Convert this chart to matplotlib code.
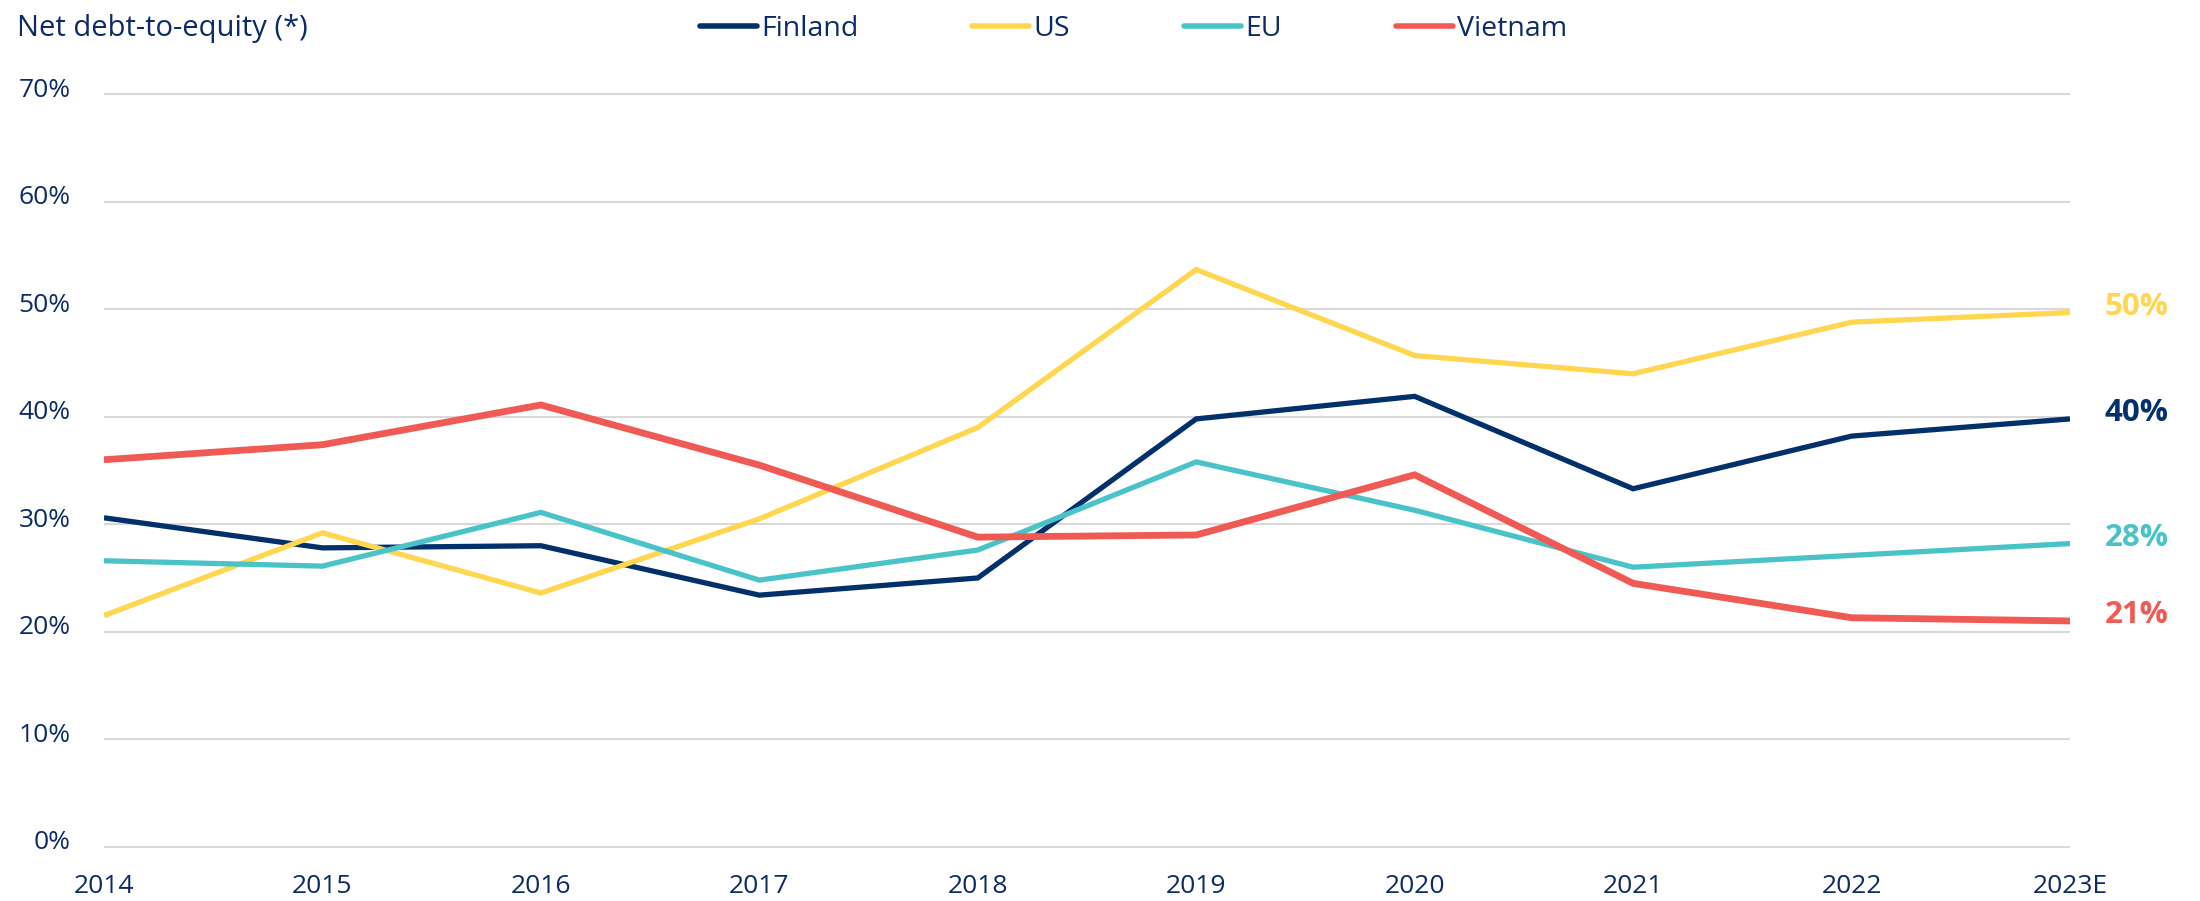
import matplotlib
matplotlib.use("Agg")
import matplotlib.pyplot as plt
import matplotlib.transforms as mtransforms
from matplotlib.lines import Line2D

plt.rcParams["font.family"] = ["Open Sans", "DejaVu Sans"]

years = ["2014", "2015", "2016", "2017", "2018", "2019", "2020", "2021", "2022", "2023E"]
finland = [30.6, 27.8, 28.0, 23.4, 25.0, 39.8, 41.9, 33.3, 38.2, 39.8]
us = [21.5, 29.2, 23.6, 30.5, 39.0, 53.7, 45.7, 44.0, 48.8, 49.7]
eu = [26.6, 26.1, 31.1, 24.8, 27.6, 35.8, 31.3, 26.0, 27.1, 28.2]
vietnam = [36.0, 37.4, 41.1, 35.5, 28.8, 29.0, 34.6, 24.5, 21.3, 21.0]
end_labels = ["40%", "50%", "28%", "21%"]

names = ["Finland", "US", "EU", "Vietnam"]
colors = ["#02306b", "#ffd650", "#4ac3c8", "#f05a55"]
widths = [3.8, 3.8, 3.8, 4.9]
text_color = "#0c2a66"

fig = plt.figure(figsize=(22, 9.01), dpi=100)
ax = fig.add_axes([104 / 2200, 1 - 852 / 901, 1966 / 2200, 763 / 901])

x = list(range(len(years)))
series = [finland, us, eu, vietnam]
for vals, c, lw in zip(series, colors, widths):
    ax.plot(x, vals, color=c, lw=lw, solid_capstyle="butt", solid_joinstyle="miter")

# value labels at the end of each line
for vals, c, lab in zip(series, colors, end_labels):
    ax.annotate(lab, xy=(x[-1], vals[-1]), xytext=(48, 4), textcoords="offset points",
                ha="center", va="center", fontsize=22.5, fontweight="bold", color=c,
                annotation_clip=False)

ax.set_xlim(0, len(years) - 1)
ax.set_ylim(-0.5, 70.5)
ax.set_yticks(range(0, 71, 10))
ax.set_yticklabels([f"{v}%" for v in range(0, 71, 10)])
ax.set_xticks(x)
ax.set_xticklabels(years)
ax.grid(axis="y", color="#d9d9d9", lw=1.5)
ax.set_axisbelow(True)
for s in ax.spines.values():
    s.set_visible(False)
ax.tick_params(axis="both", length=0, labelsize=19, labelcolor=text_color)
ax.tick_params(axis="y", pad=24)
ax.tick_params(axis="x", pad=16)

# lift y tick labels slightly above the gridlines
offset = mtransforms.ScaledTranslation(0, 5 / 72, fig.dpi_scale_trans)
for lbl in ax.get_yticklabels():
    lbl.set_transform(lbl.get_transform() + offset)

fig.text(17 / 2200, 1 - 14 / 901, "Net debt-to-equity (*)", ha="left", va="top",
         fontsize=21, color=text_color)

handles = [Line2D([], [], color=c, lw=4, solid_capstyle="round") for c in colors]
fig.legend(handles, names, loc="upper left", bbox_to_anchor=(700 / 2200, 1 - 15 / 901),
           ncol=4, frameon=False, borderpad=0, borderaxespad=0, fontsize=20.5,
           handlelength=2.0, handletextpad=0.15, columnspacing=4.0, labelcolor=text_color)

fig.savefig("out.png", dpi=100)
